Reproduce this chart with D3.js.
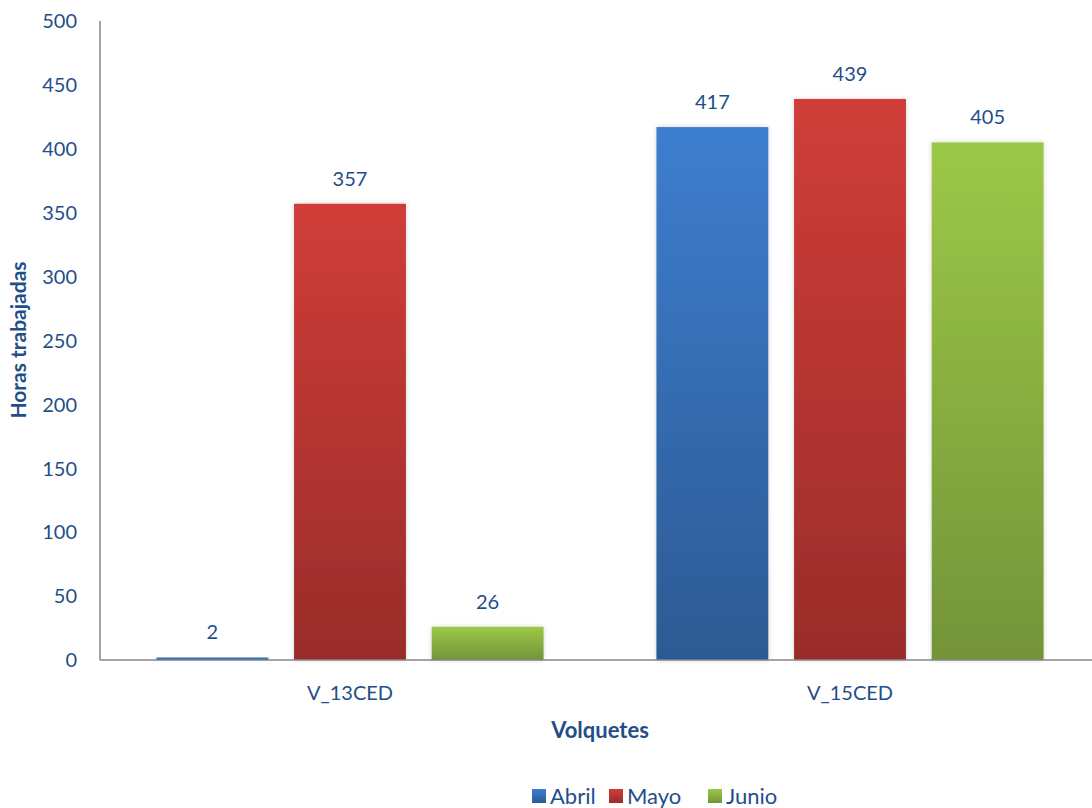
<!DOCTYPE html>
<html>
<head>
<meta charset="utf-8">
<script src="https://cdn.jsdelivr.net/npm/d3@7"></script>
<style>
  html, body { margin: 0; padding: 0; background: #fff; }
  svg text { font-family: Lato, "Open Sans", sans-serif; fill: #1f4e89; }
</style>
</head>
<body>
<svg id="chart" width="1092" height="808"></svg>
<script>
// Horas trabajadas por volquete y mes
const categories = ["V_13CED", "V_15CED"];
const months = ["Abril", "Mayo", "Junio"];
const abril = [2, 417];
const mayo = [357, 439];
const junio = [26, 405];
const yTicks = [0, 50, 100, 150, 200, 250, 300, 350, 400, 450, 500];

const seriesValues = { Abril: abril, Mayo: mayo, Junio: junio };
const colors = {
  Abril: ["#3e7ecf", "#2c5a93"],
  Mayo: ["#d03d39", "#9a2c2a"],
  Junio: ["#9cc847", "#739439"]
};

const svg = d3.select("#chart");
const chartW = 1092;
const plotLeft = 100, plotTop = 21, plotBottom = 660;

const x0 = d3.scaleBand().domain(categories).range([plotLeft, 1100]).paddingInner(0).paddingOuter(0);
const x1 = d3.scaleBand().domain(months).range([0, x0.bandwidth()]).paddingInner(0.187).paddingOuter(0.41);
const y = d3.scaleLinear().domain([0, 500]).range([plotBottom, plotTop]);

// gradients and soft shadow
const defs = svg.append("defs");
months.forEach(m => {
  const g = defs.append("linearGradient").attr("id", "grad-" + m)
    .attr("x1", 0).attr("y1", 0).attr("x2", 0).attr("y2", 1);
  g.append("stop").attr("offset", "0%").attr("stop-color", colors[m][0]);
  g.append("stop").attr("offset", "100%").attr("stop-color", colors[m][1]);
});
const f = defs.append("filter").attr("id", "shadow")
  .attr("x", "-10%").attr("y", "-10%").attr("width", "120%").attr("height", "120%");
f.append("feGaussianBlur").attr("in", "SourceAlpha").attr("stdDeviation", 2.5).attr("result", "b");
f.append("feComponentTransfer").attr("in", "b").attr("result", "c")
  .append("feFuncA").attr("type", "linear").attr("slope", 0.18);
const mg = f.append("feMerge");
mg.append("feMergeNode").attr("in", "c");
mg.append("feMergeNode").attr("in", "SourceGraphic");

// y axis labels
svg.append("g").selectAll("text").data(yTicks).join("text")
  .attr("x", 77).attr("y", d => y(d))
  .attr("dy", "0.36em").attr("text-anchor", "end")
  .attr("font-size", 20).text(d => d);

// bars
const groups = svg.append("g").selectAll("g").data(categories).join("g")
  .attr("transform", d => `translate(${x0(d)},0)`);

groups.selectAll("rect").data((c, i) => months.map(m => ({ m, v: seriesValues[m][i] })))
  .join("rect")
  .attr("x", d => x1(d.m))
  .attr("y", d => y(d.v))
  .attr("width", x1.bandwidth())
  .attr("height", d => plotBottom - y(d.v))
  .attr("fill", d => `url(#grad-${d.m})`)
  .attr("filter", "url(#shadow)");

groups.selectAll("text.val").data((c, i) => months.map(m => ({ m, v: seriesValues[m][i] })))
  .join("text").attr("class", "val")
  .attr("x", d => x1(d.m) + x1.bandwidth() / 2)
  .attr("y", d => y(d.v) - 18)
  .attr("text-anchor", "middle").attr("font-size", 20)
  .text(d => d.v);

// axis lines
svg.append("line").attr("x1", plotLeft).attr("x2", plotLeft).attr("y1", plotTop).attr("y2", plotBottom)
  .attr("stroke", "#868686").attr("stroke-width", 1.5);
svg.append("line").attr("x1", plotLeft).attr("x2", chartW).attr("y1", plotBottom).attr("y2", plotBottom)
  .attr("stroke", "#868686").attr("stroke-width", 1.5);

// category labels
svg.append("g").selectAll("text").data(categories).join("text")
  .attr("x", d => x0(d) + x0.bandwidth() / 2).attr("y", 700)
  .attr("text-anchor", "middle").attr("font-size", 20).text(d => d);

// axis titles
svg.append("text").attr("x", 600).attr("y", 738).attr("text-anchor", "middle")
  .attr("font-size", 22).attr("font-weight", "bold").text("Volquetes");
svg.append("text").attr("transform", "translate(26,340) rotate(-90)")
  .attr("text-anchor", "middle").attr("font-size", 21).attr("font-weight", "bold")
  .text("Horas trabajadas");

// legend
const legendX = [532, 609, 708];
const lg = svg.append("g").selectAll("g").data(months).join("g")
  .attr("transform", (d, i) => `translate(${legendX[i]},789)`);
lg.append("rect").attr("width", 14).attr("height", 14)
  .attr("fill", d => `url(#grad-${d})`);
lg.append("text").attr("x", 18).attr("y", 7).attr("dy", "0.38em")
  .attr("font-size", 22).text(d => d);
</script>
</body>
</html>
